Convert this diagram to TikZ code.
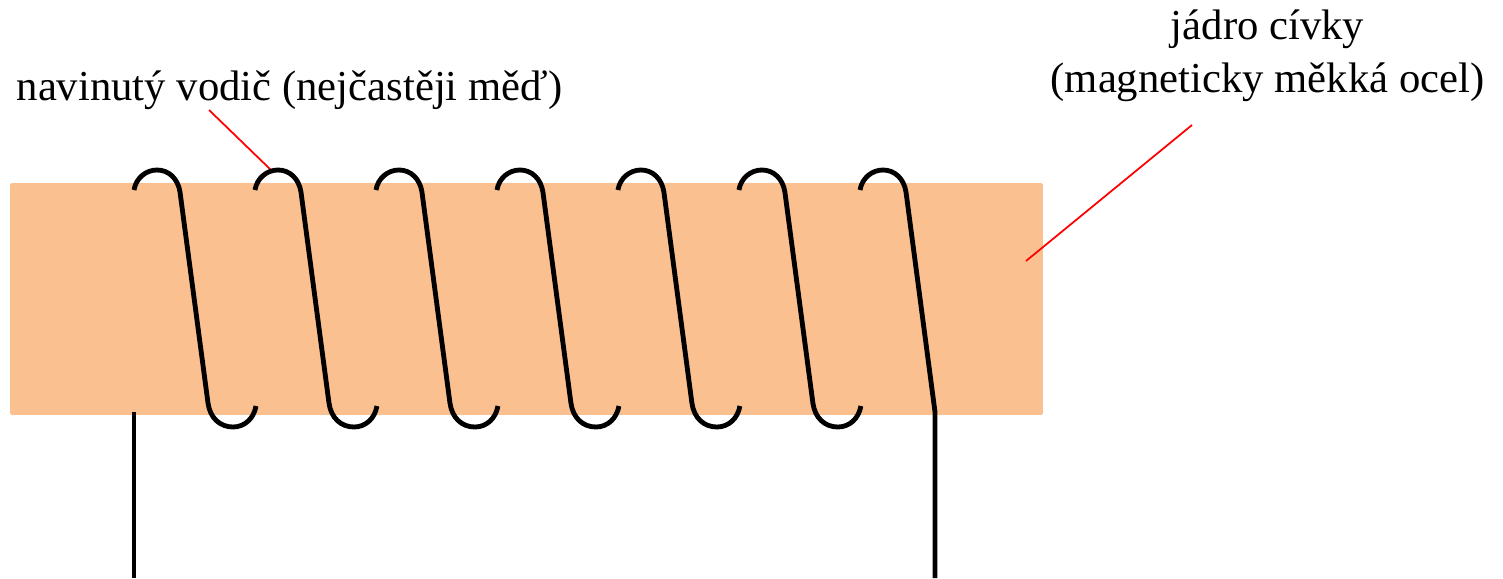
\documentclass[tikz,border=0pt]{standalone}
\usepackage{fontspec}
\setmainfont{Liberation Serif}
\usetikzlibrary{positioning}
\definecolor{coreorange}{RGB}{251,192,144}
\definecolor{leaderred}{RGB}{255,0,0}
\tikzset{
  corebox/.style={fill=coreorange, rounded corners=1.2pt, minimum width=20.66cm,
    minimum height=4.64cm, inner sep=0pt},
  wire/.style={draw=black, line width=2.75pt},
  leader/.style={draw=leaderred, line width=1pt},
  partlabel/.style={font=\fontsize{24.3pt}{30.4pt}\selectfont, align=center, inner sep=0pt}
}
\begin{document}
\begin{tikzpicture}[x=0.02cm, y=-0.02cm]
  \useasboundingbox (0,0) rectangle (1503,578);
  \node[corebox] (core) at (526.5,299) {};
  \node[partlabel] (wirelabel) at (289.5,90) {navinutý vodič (nejčastěji měď)};
  \node[partlabel] (corelabel) at (1267.5,56) {jádro cívky\\(magneticky měkká ocel)};
  \coordinate (wiretip) at (271,170);
  \coordinate (wirefoot) at (209,110);
  \coordinate (coretip) at (1026,261);
  \coordinate (corefoot) at (1192,125);
  \draw[leader] (wirefoot)--(wiretip);
  \draw[leader] (corefoot)--(coretip);
  % turns of the coil
  \foreach \k in {0,...,5}{
    \draw[wire, xshift=2.42cm*\k] (134,190) .. controls (136,178) and (146,170) .. (157,170)
      .. controls (169,170) and (178,179) .. (180,192) -- (208,403)
      .. controls (210,418) and (220,427) .. (233,427)
      .. controls (245,427) and (254,418) .. (256,406);
  }
  \coordinate (lefttop) at (134,412);
  \coordinate (leftend) at (134,578);
  \coordinate (righttop) at (935,412);
  \coordinate (rightend) at (935,578);
  \draw[wire] (860,190) .. controls (862,178) and (872,170) .. (883,170)
    .. controls (895,170) and (904,179) .. (906,192) -- (righttop)--(rightend);
  \draw[wire] (lefttop)--(leftend);
\end{tikzpicture}
\end{document}
